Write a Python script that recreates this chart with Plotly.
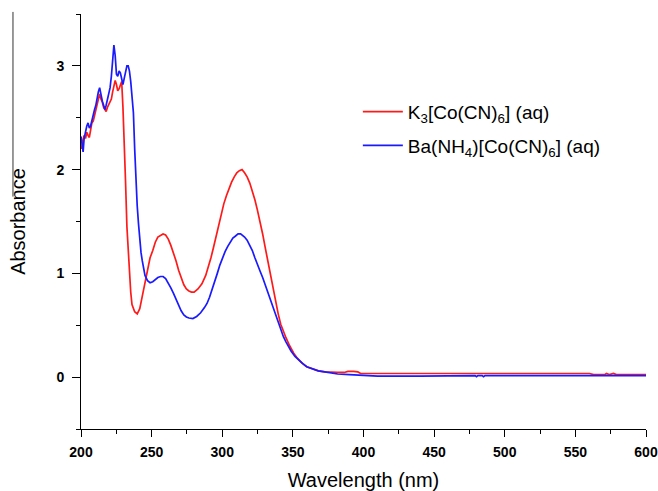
import plotly.graph_objects as go

# K3[Co(CN)6] (aq) - red
wl_k = [200.0, 200.4, 201.3, 202.2, 203.2, 204.1, 205.0, 205.9, 206.8, 207.7, 208.7, 209.6, 210.5, 211.4, 212.3,
        213.2, 214.1, 215.1, 216.0, 216.9, 217.8, 218.7, 219.6, 220.6, 221.5, 222.4, 223.3, 224.2, 225.1, 226.0,
        227.0, 227.9, 228.8, 229.7, 230.6, 231.5, 232.5, 233.4, 234.3, 235.2, 236.1, 238.0, 239.8, 241.6, 243.4,
        245.3, 247.1, 248.9, 250.8, 252.6, 254.4, 256.3, 258.1, 259.9, 261.8, 263.6, 265.4, 267.3, 269.1, 270.9,
        272.8, 274.6, 276.4, 278.2, 280.1, 282.8, 285.6, 288.3, 290.2, 292.0, 293.8, 295.6, 297.5, 299.3, 301.1,
        303.0, 304.8, 306.6, 308.5, 310.3, 312.1, 314.0, 315.8, 317.6, 319.5, 321.3, 323.1, 324.9, 326.8, 328.6,
        330.4, 332.3, 334.1, 335.9, 337.8, 339.6, 341.4, 343.3, 345.1, 347.8, 350.6, 353.3, 356.1, 359.8, 363.4,
        368.0, 372.6, 377.1, 381.7, 386.3, 389.0, 393.0, 396.0, 398.0, 410.0, 430.0, 449.0, 450.0, 456.0, 457.0,
        480.0, 520.0, 560.0, 563.0, 571.0, 572.0, 574.0, 577.0, 579.0, 600.0]
abs_k = [2.22, 2.20, 2.28, 2.33, 2.30, 2.36, 2.33, 2.31, 2.38, 2.45, 2.47, 2.52, 2.58, 2.62, 2.70,
         2.73, 2.68, 2.65, 2.60, 2.58, 2.56, 2.60, 2.63, 2.66, 2.68, 2.75, 2.80, 2.86, 2.82, 2.76,
         2.78, 2.82, 2.85, 2.60, 2.30, 1.90, 1.45, 1.20, 1.00, 0.82, 0.70, 0.63, 0.61, 0.66, 0.78,
         0.92, 1.05, 1.15, 1.22, 1.30, 1.35, 1.37, 1.38, 1.37, 1.33, 1.27, 1.20, 1.12, 1.03, 0.95,
         0.89, 0.85, 0.83, 0.82, 0.82, 0.85, 0.90, 0.98, 1.06, 1.15, 1.25, 1.36, 1.48, 1.58, 1.67,
         1.75, 1.82, 1.88, 1.93, 1.97, 1.99, 2.00, 1.97, 1.93, 1.87, 1.80, 1.71, 1.61, 1.50, 1.38,
         1.25, 1.12, 0.98, 0.84, 0.72, 0.61, 0.51, 0.44, 0.38, 0.30, 0.23, 0.18, 0.14, 0.10, 0.08,
         0.06, 0.05, 0.045, 0.045, 0.045, 0.055, 0.055, 0.05, 0.035, 0.035, 0.035, 0.035, 0.03, 0.03, 0.035,
         0.035, 0.035, 0.035, 0.025, 0.025, 0.035, 0.025, 0.035, 0.025, 0.025]

# Ba(NH4)[Co(CN)6] (aq) - blue
wl_b = [200.0, 200.8, 201.5, 202.2, 203.2, 204.1, 205.0, 205.9, 206.8, 207.7, 208.7, 209.6, 210.5, 211.4, 212.3,
        213.2, 214.1, 215.1, 216.0, 216.9, 217.8, 218.7, 219.6, 220.6, 221.5, 222.4, 223.3, 224.2, 225.1, 226.0,
        227.0, 227.9, 228.8, 229.7, 230.6, 231.5, 232.5, 233.4, 234.3, 235.2, 236.1, 237.1, 238.0, 238.9, 239.8,
        240.7, 241.6, 242.5, 243.4, 244.4, 245.3, 247.1, 248.9, 250.8, 252.6, 254.4, 256.3, 258.1, 259.9, 261.8,
        263.6, 265.4, 267.3, 269.1, 270.9, 272.8, 274.6, 276.4, 279.2, 281.9, 284.7, 287.4, 289.2, 291.0, 292.8,
        294.7, 296.5, 298.3, 300.2, 302.0, 303.9, 305.7, 307.5, 309.4, 311.2, 313.0, 314.0, 315.8, 317.6, 319.5,
        321.3, 323.1, 324.9, 326.8, 328.6, 330.4, 332.3, 334.1, 335.9, 337.8, 339.6, 341.4, 343.3, 345.1, 346.9,
        348.8, 351.5, 354.3, 357.0, 359.8, 363.4, 368.0, 372.6, 377.1, 381.7, 390.0, 398.0, 410.0, 440.0, 466.0,
        470.0, 479.0, 480.0, 481.0, 484.0, 485.0, 486.0, 600.0]
abs_b = [2.32, 2.25, 2.17, 2.30, 2.37, 2.42, 2.45, 2.40, 2.42, 2.48, 2.52, 2.58, 2.62, 2.70, 2.75,
         2.79, 2.72, 2.66, 2.62, 2.58, 2.62, 2.68, 2.74, 2.79, 2.90, 3.05, 3.20, 3.10, 2.92, 2.90,
         2.95, 2.93, 2.86, 2.82, 2.88, 2.95, 3.00, 3.00, 2.95, 2.85, 2.72, 2.55, 2.20, 1.90, 1.65,
         1.48, 1.32, 1.20, 1.12, 1.04, 0.98, 0.93, 0.91, 0.92, 0.94, 0.96, 0.97, 0.97, 0.95, 0.91,
         0.86, 0.81, 0.75, 0.69, 0.64, 0.60, 0.58, 0.57, 0.565, 0.585, 0.62, 0.67, 0.71, 0.77, 0.84,
         0.92, 1.00, 1.08, 1.15, 1.21, 1.26, 1.30, 1.34, 1.36, 1.38, 1.38, 1.37, 1.35, 1.32, 1.27,
         1.22, 1.15, 1.08, 1.02, 0.96, 0.89, 0.82, 0.74, 0.67, 0.59, 0.52, 0.45, 0.39, 0.34, 0.29,
         0.25, 0.20, 0.16, 0.13, 0.10, 0.08, 0.06, 0.05, 0.04, 0.03, 0.025, 0.02, 0.01, 0.01, 0.01,
         0.015, 0.015, 0.005, 0.015, 0.015, 0.005, 0.015, 0.015]

x_ticks = [200, 250, 300, 350, 400, 450, 500, 550, 600]
y_ticks = [0, 1, 2, 3]

FONT = "Liberation Sans, Arial"

fig = go.Figure()
fig.add_trace(go.Scatter(x=wl_k, y=abs_k, mode="lines", line=dict(color="#ff1a1a", width=1.7),
                         legendgroup="k", name="K<sub>3</sub>[Co(CN)<sub>6</sub>] (aq)"))
fig.add_trace(go.Scatter(x=wl_b, y=abs_b, mode="lines", line=dict(color="#1a1aff", width=1.7),
                         legendgroup="b", name="Ba(NH<sub>4</sub>)[Co(CN)<sub>6</sub>] (aq)"))

tick_font = dict(family=FONT, size=14, color="black")
title_font = dict(family=FONT, size=20, color="black")

fig.update_layout(
    width=658, height=491,
    margin=dict(l=81, r=12, t=14, b=62, autoexpand=False),
    paper_bgcolor="white", plot_bgcolor="white",
    showlegend=True,
    legend=dict(x=0.49, y=0.81, xanchor="left", yanchor="top",
                font=dict(family=FONT, size=19, color="black"),
                bgcolor="rgba(0,0,0,0)", itemwidth=40, tracegroupgap=6),
    xaxis=dict(range=[200, 600], tickvals=x_ticks, ticktext=[f"<b>{v}</b>" for v in x_ticks],
               showline=True, linecolor="black", linewidth=1, mirror=False, automargin=False,
               ticks="outside", ticklen=7, tickcolor="black", showgrid=False, zeroline=False,
               minor=dict(ticks="outside", ticklen=4, dtick=25, tick0=200, tickcolor="black", showgrid=False),
               tickfont=tick_font, ticklabelstandoff=3, ticklabeloverflow="allow",
               title=dict(text="Wavelength (nm)", font=title_font, standoff=15)),
    yaxis=dict(range=[-0.5, 3.5], tickvals=y_ticks, ticktext=[f"<b>{v}</b>" for v in y_ticks],
               showline=True, linecolor="black", linewidth=1, mirror=False, automargin=False,
               ticks="outside", ticklen=8, tickcolor="black", showgrid=False, zeroline=False,
               minor=dict(ticks="outside", ticklen=4, dtick=0.5, tick0=0, tickcolor="black", showgrid=False),
               tickfont=tick_font, ticklabelstandoff=5,
               title=dict(text="Absorbance", font=title_font, standoff=25)),
    shapes=[dict(type="line", xref="paper", yref="paper", x0=-0.1204, x1=-0.1204, y0=1.005, y1=0.56,
                 line=dict(color="#333333", width=1))],
)

fig.write_html("out.html")
